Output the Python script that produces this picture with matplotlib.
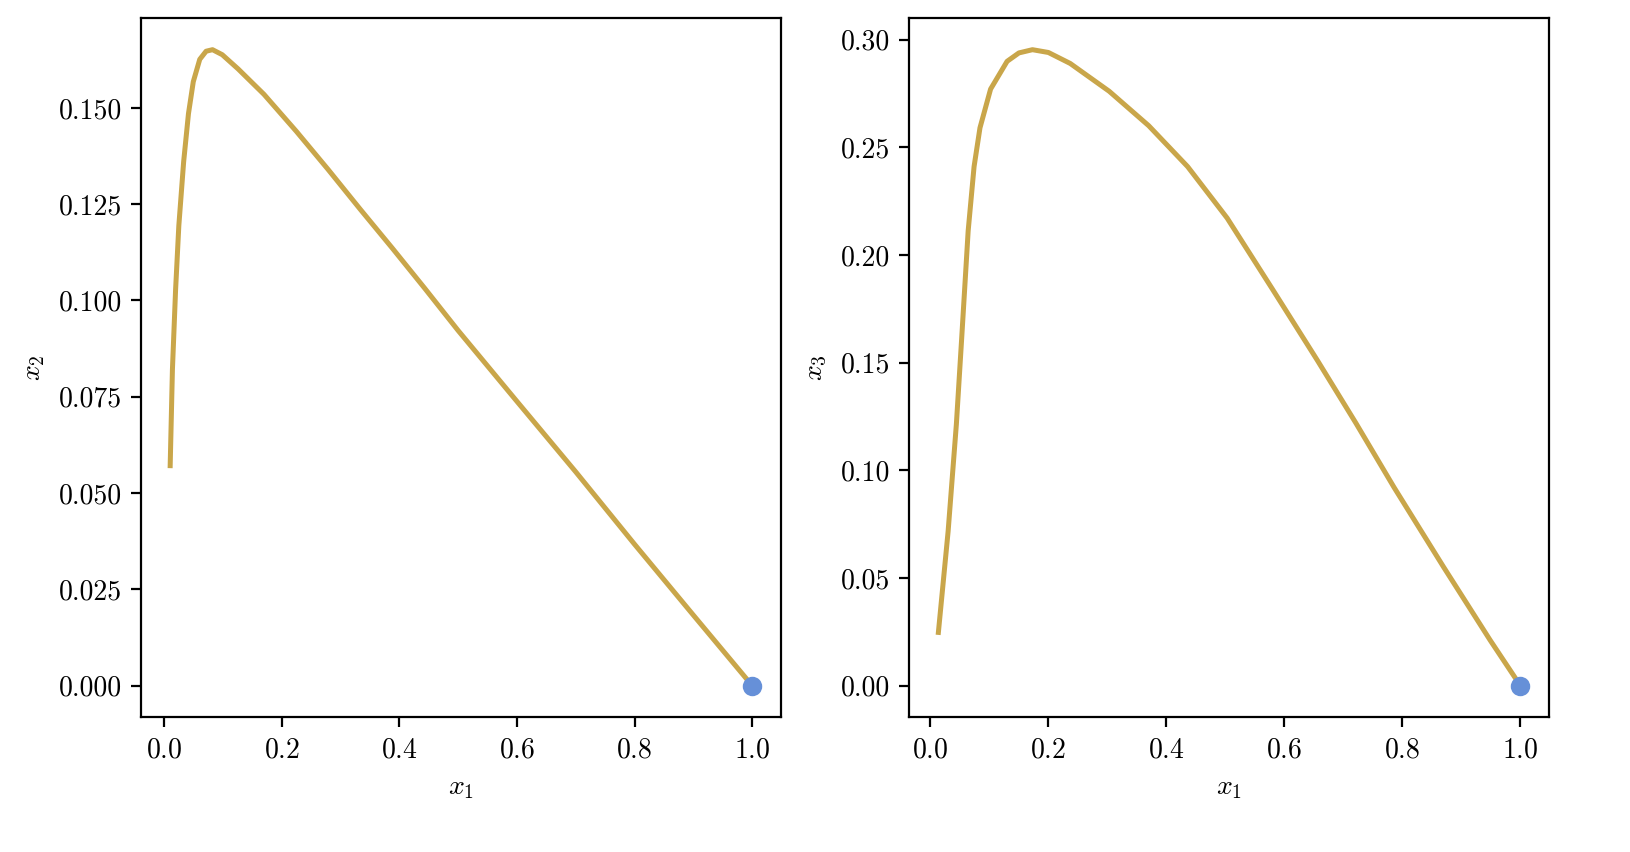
import matplotlib
matplotlib.use("Agg")
import matplotlib.pyplot as plt

plt.rcParams['font.family'] = 'serif'
plt.rcParams['font.serif'] = ['cmr10']
plt.rcParams['mathtext.fontset'] = 'cm'
plt.rcParams['axes.formatter.use_mathtext'] = True
plt.rcParams['axes.unicode_minus'] = False

x1_left = [0.0105, 0.0143, 0.0197, 0.0252, 0.0334, 0.0416, 0.0498, 0.0608, 0.0716, 0.0825, 0.099, 0.126,
           0.170, 0.225, 0.279, 0.334, 0.388, 0.443, 0.5, 0.6, 0.7, 0.8, 0.9, 1.0]
x2 = [0.0571, 0.0820, 0.1028, 0.1194, 0.1360, 0.1485, 0.1568, 0.1626, 0.1647, 0.1651, 0.1638, 0.1601,
      0.1535, 0.1439, 0.1340, 0.1236, 0.1136, 0.1032, 0.0922, 0.0738, 0.0555, 0.0367, 0.0183, 0.0]

x1_right = [0.0135, 0.030, 0.044, 0.053, 0.064, 0.074, 0.084, 0.102, 0.130, 0.150, 0.173, 0.200, 0.237, 0.303,
            0.370, 0.436, 0.503, 0.580, 0.656, 0.721, 0.786, 0.870, 0.949, 1.0]
x3 = [0.0247, 0.0716, 0.1214, 0.1613, 0.2112, 0.2410, 0.2590, 0.2770, 0.2899, 0.2938, 0.2953, 0.2940, 0.2889, 0.2760,
      0.2600, 0.2410, 0.2171, 0.184, 0.151, 0.122, 0.092, 0.055, 0.021, 0.0]

line_c = '#C9A64A'
dot_c = '#6690D8'

fig, axes = plt.subplots(1, 2, figsize=(8.155, 4.26), dpi=200)
fig.subplots_adjust(left=0.0865, right=0.95, bottom=0.158, top=0.979, wspace=0.2)

for ax, xs, ys, lab in [(axes[0], x1_left, x2, r'$x_2$'), (axes[1], x1_right, x3, r'$x_3$')]:
    ax.plot(xs, ys, color=line_c, lw=1.8, solid_joinstyle='round')
    ax.plot([1.0], [0.0], 'o', color=dot_c, ms=6)
    ax.set_xlabel(r'$x_1$')
    ax.set_ylabel(lab)
    ax.set_xticks([0.0, 0.2, 0.4, 0.6, 0.8, 1.0])

axes[0].set_yticks([0.0, 0.025, 0.05, 0.075, 0.1, 0.125, 0.15])
axes[0].set_yticklabels(['0.000', '0.025', '0.050', '0.075', '0.100', '0.125', '0.150'])
axes[1].set_yticks([0.0, 0.05, 0.1, 0.15, 0.2, 0.25, 0.3])
axes[1].set_yticklabels(['0.00', '0.05', '0.10', '0.15', '0.20', '0.25', '0.30'])

fig.savefig('out.png', dpi=200)
